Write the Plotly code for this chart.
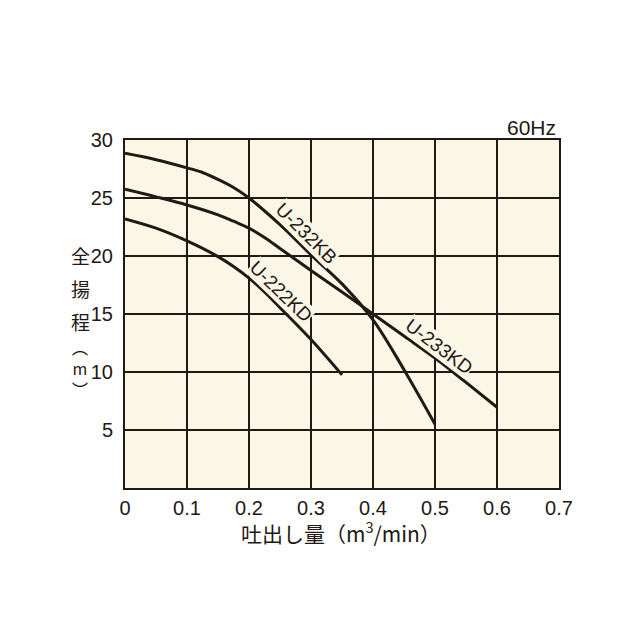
import plotly.graph_objects as go

# ---- data ----
flow_232KB = [0, 0.05, 0.1, 0.125, 0.15, 0.175, 0.2, 0.25, 0.3, 0.35, 0.4, 0.45, 0.5]
head_232KB = [28.85, 28.3, 27.6, 27.2, 26.6, 25.9, 25.0, 22.7, 20.1, 17.6, 14.5, 10.2, 5.5]

flow_233KD = [0, 0.05, 0.1, 0.15, 0.175, 0.2, 0.225, 0.25, 0.3, 0.35, 0.4, 0.45, 0.5, 0.55, 0.6]
head_233KD = [25.75, 25.1, 24.4, 23.55, 23.0, 22.4, 21.6, 20.65, 18.75, 16.9, 15.0, 13.1, 11.2, 9.1, 6.96]

flow_222KD = [0, 0.05, 0.1, 0.15, 0.175, 0.2, 0.225, 0.25, 0.3, 0.35]
head_222KD = [23.2, 22.4, 21.3, 19.95, 19.1, 18.1, 16.9, 15.55, 12.8, 9.75]

x_ticks = [0, 0.1, 0.2, 0.3, 0.4, 0.5, 0.6, 0.7]
x_ticklabels = ["0", "0.1", "0.2", "0.3", "0.4", "0.5", "0.6", "0.7"]
y_ticks = [5, 10, 15, 20, 25, 30]
y_ticklabels = ["5", "10", "15", "20", "25", "30"]

labels = ["U-232KB", "U-222KD", "U-233KD"]
label_x = [0.293, 0.2516, 0.5065]
label_y = [21.96, 16.94, 12.18]
label_angle = [45, 44, 37]

y_title_chars = ["全", "揚", "程", "︵<br>m<br>︶"]
x_title = "吐出し量（m<sup>3</sup>/min）"

ink = "#231815"
bg = "#FBF7E6"
num_font = "Liberation Sans, Arial, sans-serif"
cjk_font = "Noto Sans CJK JP, sans-serif"

# plot area in screen pixels (page has 8px body margin)
PL, PR, PT, PB = 125, 559, 140, 488
PW, PH = PR - PL, PB - PT


def px_to_paper(px, py):
    return (px - PL) / PW, (PB - py) / PH


fig = go.Figure()
for fx, hy in [(flow_232KB, head_232KB), (flow_233KD, head_233KD), (flow_222KD, head_222KD)]:
    fig.add_trace(go.Scatter(x=fx, y=hy, mode="lines",
                             line=dict(color=ink, width=3, shape="spline", smoothing=1.0),
                             showlegend=False, hoverinfo="skip"))

for t, lx, ly, a in zip(labels, label_x, label_y, label_angle):
    fig.add_annotation(x=lx, y=ly, text=t, showarrow=False, textangle=a,
                       xanchor="center", yanchor="middle",
                       font=dict(family=num_font, size=19, color=ink),
                       bgcolor=bg, borderpad=0)

fig.add_annotation(x=1, y=1, xref="paper", yref="paper", xanchor="right", yanchor="bottom",
                   xshift=-1, yshift=-1, text="60Hz", showarrow=False,
                   font=dict(family=num_font, size=21, color=ink))

# vertical Japanese y-axis title (全揚程（m）), stacked characters
title_px_y = [255, 288, 321, 368]
title_size = [19, 19, 19, 16]
for ch, py, sz in zip(y_title_chars, title_px_y, title_size):
    xp, yp = px_to_paper(80, py)
    fig.add_annotation(x=xp, y=yp, xref="paper", yref="paper", text=ch,
                       xanchor="center", yanchor="middle", align="center",
                       showarrow=False, font=dict(family=cjk_font, size=sz, color=ink))

# x-axis title
xp, yp = px_to_paper(341, 532)
fig.add_annotation(x=xp, y=yp, xref="paper", yref="paper", text=x_title,
                   xanchor="center", yanchor="middle", showarrow=False,
                   font=dict(family=cjk_font, size=21, color=ink))

fig.update_layout(
    width=640, height=640,
    margin=dict(l=PL - 8, r=640 - (PR - 8), t=PT - 8, b=640 - (PB - 8)),
    paper_bgcolor="white", plot_bgcolor=bg,
    xaxis=dict(range=[0, 0.7], tickvals=x_ticks, ticktext=x_ticklabels,
               showgrid=True, gridcolor=ink, gridwidth=2, zeroline=False,
               showline=True, linecolor=ink, linewidth=2, mirror=True,
               ticks="outside", ticklen=1, tickcolor="rgba(0,0,0,0)",
               tickfont=dict(family=num_font, size=20, color=ink)),
    yaxis=dict(range=[0, 30], tickvals=y_ticks, ticktext=y_ticklabels,
               showgrid=True, gridcolor=ink, gridwidth=2, zeroline=False,
               showline=True, linecolor=ink, linewidth=2, mirror=True,
               ticks="outside", ticklen=6, tickcolor="rgba(0,0,0,0)",
               tickfont=dict(family=num_font, size=20, color=ink)),
)

fig.write_html("out.html")
